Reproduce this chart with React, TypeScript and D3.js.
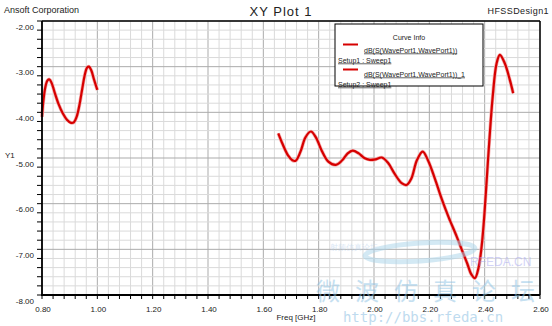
import React from "react";
import * as d3 from "d3";

const freq1 = [0.8, 0.805, 0.812, 0.82, 0.827, 0.835, 0.845, 0.86, 0.875, 0.89, 0.905, 0.915, 0.925, 0.935, 0.945, 0.955, 0.963, 0.97, 0.978, 0.988, 1.0];
const db1 = [-4.1, -3.75, -3.45, -3.3, -3.28, -3.36, -3.55, -3.82, -4.02, -4.16, -4.23, -4.22, -4.1, -3.85, -3.5, -3.17, -3.02, -3.0, -3.08, -3.28, -3.51];

const freq2 = [1.654, 1.67, 1.69, 1.705, 1.717, 1.735, 1.752, 1.772, 1.79, 1.812, 1.835, 1.862, 1.885, 1.905, 1.923, 1.945, 1.965, 1.985, 2.005, 2.028, 2.05, 2.075, 2.1, 2.118, 2.135, 2.155, 2.176, 2.195, 2.22, 2.245, 2.27, 2.299, 2.32, 2.337, 2.352, 2.365, 2.378, 2.389, 2.397, 2.405, 2.417, 2.429, 2.443, 2.455, 2.473, 2.491, 2.503];
const db2 = [-4.46, -4.7, -4.95, -5.05, -5.06, -4.85, -4.55, -4.42, -4.55, -4.85, -5.08, -5.15, -5.05, -4.9, -4.84, -4.9, -5.0, -5.04, -5.03, -4.99, -5.1, -5.35, -5.55, -5.59, -5.45, -5.05, -4.86, -5.05, -5.45, -5.9, -6.3, -6.72, -7.05, -7.31, -7.55, -7.63, -7.4, -6.94, -6.4, -5.7, -4.61, -3.66, -2.93, -2.74, -2.93, -3.29, -3.58];

const xTickLabels = ["0.80", "1.00", "1.20", "1.40", "1.60", "1.80", "2.00", "2.20", "2.40", "2.60"];
const yTickLabels = ["-2.00", "-3.00", "-4.00", "-5.00", "-6.00", "-7.00", "-8.00"];

const legendNames = ["dB(S(WavePort1,WavePort1))", "dB(S(WavePort1,WavePort1))_1"];
const legendSetups = ["Setup1 : Sweep1", "Setup2 : Sweep1"];

const watermarkChars = ["微", "波", "仿", "真", "论", "坛"];

export default function App() {
  const W = 552, H = 326;
  const L = 42, R = 540, T = 21, B = 295;
  const x = d3.scaleLinear().domain([0.8, 2.6]).range([L, R]);
  const y = d3.scaleLinear().domain([-8, -2]).range([B, T]);

  const xMinor = d3.range(0, 46).map((i) => 0.8 + i * 0.04);
  const yMinor = d3.range(0, 31).map((i) => -8 + i * 0.2);

  const line = d3
    .line<[number, number]>()
    .x((d) => x(d[0]))
    .y((d) => y(d[1]))
    .curve(d3.curveCatmullRom.alpha(0.5));

  const s1 = freq1.map((f, i) => [f, db1[i]] as [number, number]);
  const s2 = freq2.map((f, i) => [f, db2[i]] as [number, number]);

  const font = "'Liberation Sans', Arial, sans-serif";
  const red = "#d60000";

  return (
    <svg width={W} height={H} style={{ position: "absolute", left: 0, top: 0, background: "#fff" }} fontFamily={font}>
      <rect x={0} y={0} width={W} height={H} fill="#fff" />
      {xMinor.map((v, i) => (
        <line key={"gx" + i} x1={x(v)} x2={x(v)} y1={T} y2={B} stroke={i % 5 === 0 ? "#ababab" : "#dadada"} strokeWidth={1} />
      ))}
      {yMinor.map((v, i) => (
        <line key={"gy" + i} x1={L} x2={R} y1={y(v)} y2={y(v)} stroke={i % 5 === 0 ? "#ababab" : "#dadada"} strokeWidth={1} />
      ))}
      <path d={line(s1) || ""} fill="none" stroke="#f4b0b0" strokeWidth={3.6} />
      <path d={line(s1) || ""} fill="none" stroke={red} strokeWidth={2.2} />
      <path d={line(s2) || ""} fill="none" stroke="#f4b0b0" strokeWidth={3.6} />
      <path d={line(s2) || ""} fill="none" stroke={red} strokeWidth={2.2} />
      <line x1={L} x2={R} y1={T} y2={T} stroke="#000" strokeWidth={1.5} />
      <line x1={R} x2={R} y1={T} y2={B} stroke="#000" strokeWidth={1.5} />
      <line x1={L} x2={L} y1={T} y2={B + 1} stroke="#000" strokeWidth={1.8} />
      <line x1={L - 1} x2={R} y1={B} y2={B} stroke="#000" strokeWidth={1.8} />
      {xMinor.map((v, i) => (
        <line key={"tx" + i} x1={x(v)} x2={x(v)} y1={B} y2={B + 4} stroke="#000" strokeWidth={1} />
      ))}
      {yMinor.map((v, i) => (
        <line key={"ty" + i} x1={L - 5} x2={L} y1={y(v)} y2={y(v)} stroke="#000" strokeWidth={1} />
      ))}
      {xTickLabels.map((t, i) => (
        <text key={"xl" + i} x={x(+t) + 1} y={312} fontSize={8} textAnchor="middle" fill="#222">{t}</text>
      ))}
      {yTickLabels.map((t, i) => (
        <text key={"yl" + i} x={34} y={y(+t) + 8.5} fontSize={8} textAnchor="end" fill="#222">{t}</text>
      ))}
      <text x={5} y={158} fontSize={8} fill="#222">Y1</text>
      <text x={296} y={320} fontSize={8} textAnchor="middle" fill="#222">Freq [GHz]</text>
      <text x={4} y={13} fontSize={9} fill="#222">Ansoft Corporation</text>
      <text x={281} y={16} fontSize={13} textAnchor="middle" letterSpacing={1} fill="#222">XY Plot 1</text>
      <text x={549} y={14} fontSize={9} textAnchor="end" letterSpacing={0.4} fill="#222">HFSSDesign1</text>
      <rect x={335} y={24} width={148} height={62} fill="#fff" stroke="#000" strokeWidth={1} />
      <text x={409} y={40} fontSize={7} textAnchor="middle" fill="#222">Curve Info</text>
      {legendNames.map((n, i) => (
        <g key={"lg" + i}>
          <line x1={343} x2={358} y1={44.5 + i * 25} y2={44.5 + i * 25} stroke={red} strokeWidth={2} />
          <text x={364} y={52.5 + i * 24} fontSize={7} fill="#222" textDecoration="underline">{n}</text>
          <text x={338} y={62.5 + i * 24} fontSize={7} fill="#222" textDecoration="underline">{legendSetups[i]}</text>
        </g>
      ))}
      <g opacity={0.5}>
        <ellipse cx={420} cy={252} rx={55} ry={9} fill="none" stroke="#a9d4ea" strokeWidth={5} transform="rotate(-4 420 252)" />
        <text x={330} y={250} fontSize={8} fill="#b8d2ee">射频仿真论坛</text>
        <text x={470} y={266} fontSize={12} fill="#a8a8f0">RFEDA.CN</text>
        {watermarkChars.map((c, i) => (
          <text key={"wc" + i} x={328 + i * 39} y={300} fontSize={24} fill="#8cc2e4" textAnchor="middle" fontFamily="'Noto Sans CJK SC', sans-serif">{c}</text>
        ))}
        <text x={423} y={322} fontSize={14} fill="#7fb8e0" textAnchor="middle" fontFamily="'DejaVu Sans Mono', monospace">http://bbs.rfeda.cn</text>
      </g>
    </svg>
  );
}
